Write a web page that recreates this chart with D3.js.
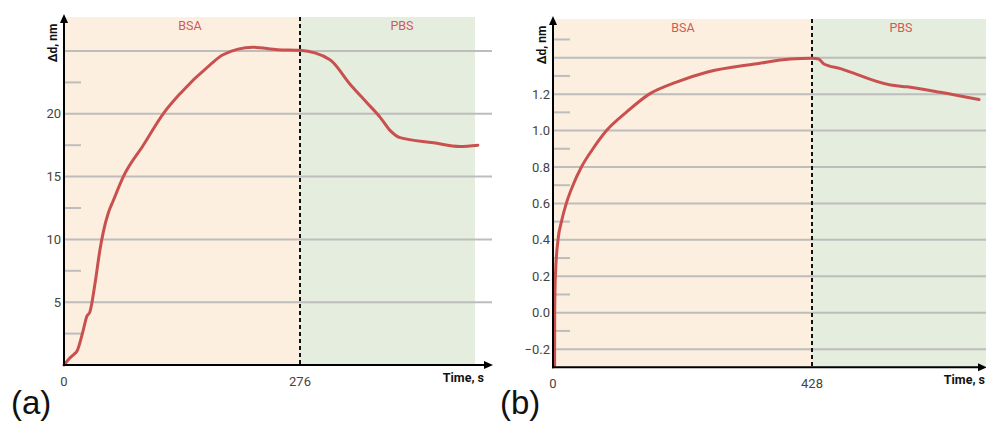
<!DOCTYPE html>
<html>
<head>
<meta charset="utf-8">
<script src="https://cdn.jsdelivr.net/npm/d3@7"></script>
<style>
  html, body { margin: 0; padding: 0; background: #fff; }
  svg { display: block; font-family: Roboto, "Noto Sans", sans-serif; }
</style>
</head>
<body>
<div id="chart"></div>
<script>
// panel (a) data
var timeA = [0, 6, 12.9, 14.8, 22.6, 26.5, 30.4, 36.3, 42.1, 46, 51.8, 57.7, 69.4, 92.7, 116, 135.7, 170.8, 186, 221, 250, 276, 311, 334, 354, 370, 381, 393, 432, 463, 484];
var valueA = [0, 0.5, 0.93, 1.06, 2.8, 3.85, 4.25, 6.5, 9.2, 10.6, 12.1, 13.1, 15, 17.5, 20, 21.6, 23.9, 24.7, 25.3, 25.1, 25.05, 24.3, 22.4, 20.9, 19.7, 18.7, 18.1, 17.7, 17.4, 17.5];
var gridA = [5, 10, 15, 20, 25];
var labelsA = [5, 10, 15, 20];
var minorA = [2.5, 7.5, 12.5, 17.5, 22.5];
var xTicksA = [0, 276];

// panel (b) data
var timeB = [2.6, 2.8, 3.9, 8.3, 14, 22, 33, 47, 66, 88.4, 121, 159, 204, 254, 337, 392, 428, 439, 447, 475, 558, 585, 640, 704];
var valueB = [-0.29, 0.0, 0.2, 0.4, 0.5, 0.6, 0.7, 0.8, 0.9, 1.0, 1.1, 1.2, 1.266, 1.32, 1.367, 1.393, 1.397, 1.393, 1.367, 1.34, 1.25, 1.24, 1.21, 1.17];
var gridB = [-0.2, 0, 0.2, 0.4, 0.6, 0.8, 1.0, 1.2, 1.4];
var labelsB = [-0.2, 0, 0.2, 0.4, 0.6, 0.8, 1.0, 1.2];
var minorB = [-0.1, 0.1, 0.3, 0.5, 0.7, 0.9, 1.1, 1.3, 1.5];
var xTicksB = [0, 428];

var phases = ["BSA", "PBS"];

var width = 986, height = 427;

var svg = d3.select("#chart").append("svg")
    .attr("width", width)
    .attr("height", height);

function drawPanel(o) {
  var x = d3.scaleLinear().domain([0, o.switchT]).range([o.x0, o.xSwitch]);
  var y = d3.scaleLinear().domain(o.yRef).range(o.yRefPx);

  var g = svg.append("g");
  var yBottom = y(o.yMin);

  // background phases
  g.append("rect")
      .attr("x", o.x0).attr("y", o.top)
      .attr("width", o.xSwitch - o.x0).attr("height", yBottom - o.top)
      .attr("fill", "#fcefdf");
  g.append("rect")
      .attr("x", o.xSwitch).attr("y", o.top)
      .attr("width", o.bgEnd - o.xSwitch).attr("height", yBottom - o.top)
      .attr("fill", "#e5eddf");

  // gridlines
  g.selectAll(".grid")
      .data(o.grid)
    .enter().append("line")
      .attr("x1", o.x0).attr("x2", o.axisEnd)
      .attr("y1", function(d) { return y(d); })
      .attr("y2", function(d) { return y(d); })
      .attr("stroke", "#bdbdbd")
      .attr("stroke-width", 2);

  g.selectAll(".minor")
      .data(o.minor)
    .enter().append("line")
      .attr("x1", o.x0).attr("x2", o.x0 + 17)
      .attr("y1", function(d) { return y(d); })
      .attr("y2", function(d) { return y(d); })
      .attr("stroke", "#bdbdbd")
      .attr("stroke-width", 2);

  // tick labels
  g.selectAll(".ylab")
      .data(o.labels)
    .enter().append("text")
      .attr("x", o.x0 - 3)
      .attr("y", function(d) { return y(d); })
      .attr("dy", "0.35em")
      .attr("text-anchor", "end")
      .attr("font-size", 13)
      .attr("fill", "#444")
      .text(o.fmt);

  g.selectAll(".xlab")
      .data(o.xTicks)
    .enter().append("text")
      .attr("x", function(d) { return x(d); })
      .attr("y", yBottom + 21)
      .attr("text-anchor", "middle")
      .attr("font-size", 13)
      .attr("fill", "#444")
      .text(function(d) { return d; });

  // phase labels
  g.selectAll(".phase")
      .data(phases)
    .enter().append("text")
      .attr("x", function(d, i) { return o.phaseX[i]; })
      .attr("y", o.top + 13)
      .attr("text-anchor", "middle")
      .attr("font-size", 12.5)
      .attr("fill", "#cf5b57")
      .text(function(d) { return d; });

  // switch line
  g.append("line")
      .attr("x1", o.xSwitch).attr("x2", o.xSwitch)
      .attr("y1", o.top).attr("y2", yBottom)
      .attr("stroke", "#111")
      .attr("stroke-width", 2)
      .attr("stroke-dasharray", "4,3");

  // the curve
  var line = d3.line()
      .x(function(d) { return x(d[0]); })
      .y(function(d) { return y(d[1]); })
      .curve(d3.curveMonotoneX);

  g.append("path")
      .datum(d3.zip(o.t, o.v))
      .attr("d", line)
      .attr("fill", "none")
      .attr("stroke", "#c8514f")
      .attr("stroke-width", 3)
      .attr("stroke-linejoin", "round")
      .attr("stroke-linecap", "round");

  // axes
  g.append("line")
      .attr("x1", o.x0).attr("x2", o.x0)
      .attr("y1", yBottom + 1).attr("y2", o.top)
      .attr("stroke", "#000").attr("stroke-width", 2);
  g.append("path")
      .attr("d", "M" + (o.x0 - 4) + "," + (o.top + 6) + "L" + o.x0 + "," + (o.top - 3) + "L" + (o.x0 + 4) + "," + (o.top + 6) + "Z")
      .attr("fill", "#000");
  g.append("line")
      .attr("x1", o.x0 - 1).attr("x2", o.axisEnd - 4)
      .attr("y1", yBottom).attr("y2", yBottom)
      .attr("stroke", "#000").attr("stroke-width", 2);
  g.append("path")
      .attr("d", "M" + (o.axisEnd - 8) + "," + (yBottom - 4) + "L" + (o.axisEnd + 1) + "," + yBottom + "L" + (o.axisEnd - 8) + "," + (yBottom + 4) + "Z")
      .attr("fill", "#000");

  // axis titles
  g.append("text")
      .attr("transform", "translate(" + (o.x0 - 7) + "," + o.yTitleY + ")rotate(-90)")
      .attr("text-anchor", "middle")
      .attr("font-size", 12)
      .attr("font-weight", "bold")
      .attr("fill", "#111")
      .text("\u0394d, nm");

  g.append("text")
      .attr("x", o.timeEnd)
      .attr("y", yBottom + 17)
      .attr("text-anchor", "end")
      .attr("font-size", 12.5)
      .attr("font-weight", "bold")
      .attr("fill", "#111")
      .text("Time, s");

  // panel letter
  g.append("text")
      .attr("x", o.letterX)
      .attr("y", 414)
      .attr("font-family", "'Liberation Sans', Arial, sans-serif")
      .attr("font-size", 33)
      .attr("fill", "#111")
      .text(o.letter);
}

drawPanel({
  t: timeA, v: valueA, grid: gridA, labels: labelsA, minor: minorA, xTicks: xTicksA,
  switchT: 276, x0: 64, xSwitch: 300, bgEnd: 475, axisEnd: 492,
  yRef: [0, 25], yRefPx: [365, 51], yMin: 0, top: 17,
  phaseX: [190, 402], yTitleY: 43, timeEnd: 484,
  fmt: function(d) { return d; }, letter: "(a)", letterX: 11
});

drawPanel({
  t: timeB, v: valueB, grid: gridB, labels: labelsB, minor: minorB, xTicks: xTicksB,
  switchT: 428, x0: 553, xSwitch: 812, bgEnd: 986, axisEnd: 986,
  yRef: [0, 1.4], yRefPx: [312.7, 57.7], yMin: -0.3, top: 19,
  phaseX: [683, 901], yTitleY: 45, timeEnd: 985,
  fmt: d3.format(".1f"), letter: "(b)", letterX: 500
});
</script>
</body>
</html>
